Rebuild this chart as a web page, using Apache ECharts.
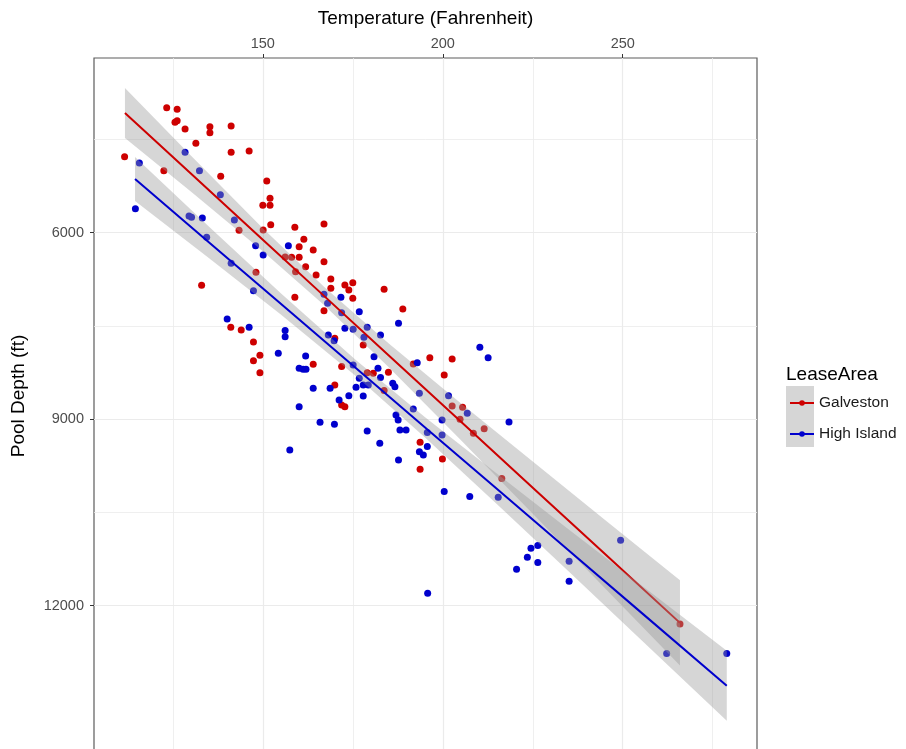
<!DOCTYPE html>
<html><head><meta charset="utf-8">
<script src="https://cdn.jsdelivr.net/npm/echarts@6/dist/echarts.min.js"></script>
<style>html,body{margin:0;padding:0;background:#fff;overflow:hidden}#c{width:906px;height:749px}</style>
</head><body><div id="c"></div>
<script>
const FONT = '"Liberation Sans", Arial, Helvetica, sans-serif';

// axis ticks
const xTicks = [150, 200, 250];
const xMinor = [125, 175, 225, 275];
const yTicks = [6000, 9000, 12000];
const yMinor = [4500, 7500, 10500];

// Galveston points (temperature F, pool depth ft)
const galvTemp = [111.6,122.5,123.3,126.2,125.6,126.2,128.4,135.3,135.3,141.2,131.4,141.2,146.2,138.3,151.1,152.0,150.0,152.0,152.2,150.1,143.4,156.2,158.0,160.1,148.1,158.9,167.0,161.4,160.1,164.0,167.0,161.9,159.1,164.8,168.9,172.8,168.9,173.9,158.9,133.0,167.0,141.1,144.0,147.4,149.2,147.4,149.2,164.0,170.0,171.9,170.0,175.0,175.0,183.7,188.9,171.9,172.8,177.9,179.0,180.7,184.9,183.7,191.8,196.4,202.6,200.4,193.7,199.9,193.7,202.6,205.5,204.8,211.5,208.5,216.4,265.9];
const galvDepth = [4778,5003,3989,4015,4224,4199,4332,4295,4392,4284,4562,4707,4686,5093,5168,5447,5559,5559,5871,5957,5962,6391,6396,6396,6637,5913,5860,6106,6225,6278,6467,6547,6627,6680,6745,6841,6894,6922,7039,6846,7255,7522,7565,7758,7972,8059,8252,8117,7699,8155,8450,6804,7055,6910,7227,8771,8799,7806,8252,8262,8246,8541,8112,8011,8032,8289,9372,9640,9806,8788,8808,9002,9153,9227,9957,12294];

// High Island points
const hiTemp = [128.4,115.7,132.4,138.2,114.6,129.5,130.2,133.2,142.1,134.4,148.0,150.1,141.2,157.1,147.4,140.1,146.2,156.2,156.2,154.3,161.9,160.1,161.2,162.0,164.0,168.7,171.7,167.0,172.8,168.2,169.8,173.9,176.8,171.9,168.0,187.7,175.1,179.0,182.7,178.1,180.9,175.1,182.0,182.7,176.8,177.9,179.3,175.9,177.9,171.2,160.1,165.9,169.9,179.0,182.5,187.7,186.1,186.7,192.9,191.8,187.0,187.6,189.8,188.1,193.5,195.7,193.5,194.6,195.7,199.8,199.8,201.6,206.8,210.3,212.6,218.4,200.4,207.5,157.5,215.4,224.5,226.4,223.5,226.4,220.5,235.1,235.1,249.4,262.2,278.9,195.8];
const hiDepth = [4707,4879,5003,5389,5614,5731,5752,5764,5796,6074,6209,6359,6492,6209,6933,7388,7522,7576,7673,7940,7983,8181,8197,8197,8503,8503,7039,6991,7538,7646,7737,8622,7271,7287,7136,7457,7554,7522,7646,7683,7995,8128,8181,8332,8342,8450,8450,8487,8627,8691,8799,9050,9082,9190,9388,9656,8422,8477,8091,8836,8932,9013,9174,9174,8583,9217,9523,9576,9442,9013,9254,8622,8905,7843,8011,9045,10166,10246,9495,10256,11076,11035,11221,11308,11414,11286,11607,10948,12772,12772,11800];

// fitted lines with confidence band
const galvFitTemp = [111.7,130,150,167,185,205,225,245,265.9];
const galvFit     = [4075,5049,6113,7017,7975,9039,10103,11167,12278];
const galvBandLow = [3673,4759,5928,6872,7785,8743,9683,10619,11591];
const galvBandHigh= [4477,5339,6298,7162,8165,9335,10523,11715,12965];

const hiFitTemp = [114.5,135,155,176,195,215,235,255,278.9];
const hiFit     = [5136,6153,7145,8186,9129,10121,11113,12105,13290];
const hiBandLow = [4782,5899,6974,8057,8965,9876,10774,11664,12727];
const hiBandHigh= [5490,6407,7316,8315,9293,10366,11452,12546,13853];

const RED = '#cd0000', BLUE = '#0000cd';
const BAND = 'rgba(153,153,153,0.4)';

const zip = (a, b) => a.map((v, i) => [v, b[i]]);

function bandSeries(name, x, lo, hi, z) {
  const poly = zip(x, lo).concat(zip(x, hi).reverse());
  return {
    type: 'custom', name: name, data: poly, silent: true, z: z, clip: true,
    encode: { x: 0, y: 1 },
    renderItem: function (params, api) {
      if (params.dataIndex !== 0) return null;
      const pts = poly.map(p => api.coord(p));
      return { type: 'polygon', shape: { points: pts }, style: { fill: BAND, stroke: null } };
    }
  };
}

const chart = echarts.init(document.getElementById('c'), null, { renderer: 'canvas' });
chart.setOption({
  animation: false,
  backgroundColor: '#fff',
  grid: { left: 94, top: 58, width: 663, height: 703, show: true, borderColor: '#5c5c5c', borderWidth: 1.2,
          backgroundColor: 'transparent', containLabel: false, outerBoundsMode: 'none' },
  xAxis: {
    type: 'value', position: 'top', min: 103.1, max: 287.3, splitNumber: 4,
    name: 'Temperature (Fahrenheit)', nameLocation: 'middle', nameGap: 30,
    nameTextStyle: { fontFamily: FONT, fontSize: 19, color: '#000' },
    axisLine: { show: false },
    axisTick: { show: true, customValues: xTicks, length: 4, lineStyle: { color: '#333', width: 1 } },
    axisLabel: { customValues: xTicks, margin: 7, fontFamily: FONT, fontSize: 14.5, color: '#4d4d4d',
                 formatter: v => String(v) },
    splitLine: { show: true, lineStyle: { color: '#ebebeb', width: 1.2 } }
  },
  yAxis: {
    type: 'value', inverse: true, min: 3190, max: 14500, splitNumber: 4,
    axisLine: { show: false },
    axisTick: { show: true, customValues: yTicks, length: 4, lineStyle: { color: '#333', width: 1 } },
    axisLabel: { customValues: yTicks, margin: 10, fontFamily: FONT, fontSize: 14.5, color: '#4d4d4d',
                 formatter: v => String(v) },
    splitLine: { show: true, lineStyle: { color: '#ebebeb', width: 1.2 } }
  },
  legend: {
    data: ['Galveston', 'High Island'], orient: 'vertical', left: 789, top: 395,
    itemWidth: 24, itemHeight: 7, itemGap: 15, padding: 0, selectedMode: false,
    textStyle: { fontFamily: FONT, fontSize: 15.5, color: '#1a1a1a' }
  },
  graphic: [
    { type: 'rect', left: 786, top: 386, z: 0, shape: { width: 28, height: 61 }, style: { fill: '#d6d6d6' } },
    { type: 'text', left: 786, top: 365, z: 1, style: { text: 'LeaseArea', font: '19px ' + FONT, fill: '#000' } },
    { type: 'text', x: 19, y: 396, rotation: Math.PI / 2, z: 1,
      style: { text: 'Pool Depth (ft)', font: '19px ' + FONT, fill: '#000', align: 'center', verticalAlign: 'middle', textAlign: 'center', textVerticalAlign: 'middle' } }
  ],
  series: [
    { type: 'line', name: 'Galveston', data: zip(galvFitTemp, galvFit), symbol: 'circle', showSymbol: false,
      lineStyle: { color: RED, width: 2 }, itemStyle: { color: RED }, z: 4, silent: true },
    { type: 'line', name: 'High Island', data: zip(hiFitTemp, hiFit), symbol: 'circle', showSymbol: false,
      lineStyle: { color: BLUE, width: 2 }, itemStyle: { color: BLUE }, z: 6, silent: true },
    { type: 'scatter', name: 'Galveston', data: zip(galvTemp, galvDepth), symbolSize: 7,
      itemStyle: { color: RED, opacity: 1 }, z: 2, silent: true,
      markLine: { silent: true, z: 1, symbol: ['none', 'none'], label: { show: false }, animation: false,
        lineStyle: { color: '#ebebeb', width: 0.8, type: 'solid' },
        data: xMinor.map(v => ({ xAxis: v })).concat(yMinor.map(v => ({ yAxis: v }))) } },
    { type: 'scatter', name: 'High Island', data: zip(hiTemp, hiDepth), symbolSize: 7,
      itemStyle: { color: BLUE, opacity: 1 }, z: 2, silent: true },
    bandSeries('galvBand', galvFitTemp, galvBandLow, galvBandHigh, 3),
    bandSeries('hiBand', hiFitTemp, hiBandLow, hiBandHigh, 5)
  ]
});
</script></body></html>
